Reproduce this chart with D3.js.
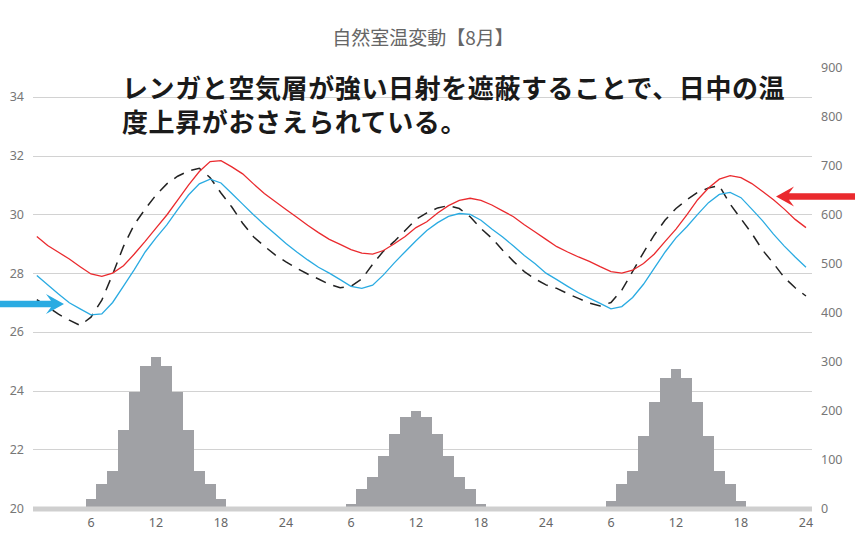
<!DOCTYPE html>
<html>
<head>
<meta charset="utf-8">
<script src="https://cdn.jsdelivr.net/npm/d3@7"></script>
<style>
    body { margin: 0; background: #fff; }
    svg { display: block; }
    .tick text { font-family: "Noto Sans", sans-serif; }
</style>
</head>
<body>
<div id="chart"></div>
<script>
(function () {
    // hours 1..72 (3 days), labels every 6h
    var hours = d3.range(1, 73);
    var hourTicks = [6, 12, 18, 24, 30, 36, 42, 48, 54, 60, 66, 72];
    var leftTicks = [20, 22, 24, 26, 28, 30, 32, 34];
    var rightTicks = [0, 100, 200, 300, 400, 500, 600, 700, 800, 900];

    // solar radiation (right axis)
    var solar = [
        0, 0, 0, 0, 0, 18, 48, 76, 159, 236, 290, 309, 290, 236, 159, 76, 48, 18, 0, 0, 0, 0, 0, 0,
        0, 0, 0, 0, 0, 8, 39, 63, 106, 152, 186, 198, 186, 152, 106, 63, 39, 8, 0, 0, 0, 0, 0, 0,
        0, 0, 0, 0, 0, 14, 48, 76, 146, 216, 265, 284, 265, 216, 146, 76, 48, 14, 0, 0, 0, 0, 0, 0
    ];

    // red line
    var redTemp = [
        29.25, 28.94, 28.71, 28.48, 28.22, 27.97, 27.89, 28.0, 28.25, 28.65, 29.08, 29.53, 29.98, 30.49, 31.0, 31.46, 31.8, 31.83, 31.62, 31.38, 31.04, 30.71, 30.44, 30.17,
        29.9, 29.63, 29.38, 29.15, 28.98, 28.8, 28.68, 28.65, 28.77, 29.0, 29.25, 29.55, 29.75, 30.05, 30.3, 30.48, 30.55, 30.48, 30.32, 30.12, 29.92, 29.65, 29.4, 29.15,
        28.9, 28.72, 28.55, 28.4, 28.22, 28.05, 28.0, 28.1, 28.33, 28.65, 29.08, 29.5, 29.98, 30.5, 30.9, 31.2, 31.32, 31.25, 31.05, 30.78, 30.5, 30.18, 29.83, 29.55
    ];

    // blue line
    var blueTemp = [
        27.92, 27.6, 27.29, 26.99, 26.78, 26.58, 26.61, 27.0, 27.56, 28.12, 28.72, 29.2, 29.64, 30.16, 30.66, 31.04, 31.2, 31.07, 30.71, 30.35, 29.99, 29.65, 29.33, 29.01,
        28.72, 28.45, 28.2, 28.0, 27.78, 27.55, 27.48, 27.59, 27.94, 28.35, 28.73, 29.1, 29.45, 29.72, 29.93, 30.03, 30.0, 29.8, 29.5, 29.23, 28.92, 28.6, 28.32, 28.0,
        27.78, 27.55, 27.33, 27.15, 26.97, 26.78, 26.86, 27.17, 27.62, 28.17, 28.72, 29.2, 29.58, 30.0, 30.4, 30.68, 30.75, 30.57, 30.18, 29.78, 29.33, 28.92, 28.55, 28.2
    ];

    // black dashed line (outdoor)
    var outdoorTemp = [
        27.1, 26.85, 26.6, 26.4, 26.22, 26.5, 27.08, 27.96, 28.91, 29.66, 30.18, 30.66, 31.04, 31.3, 31.48, 31.57, 31.25, 30.73, 30.25, 29.7, 29.24, 28.92, 28.62, 28.38,
        28.16, 27.97, 27.8, 27.62, 27.5, 27.55, 27.8, 28.3, 28.75, 29.08, 29.45, 29.83, 30.05, 30.22, 30.3, 30.2, 29.92, 29.52, 29.19, 28.78, 28.4, 28.05, 27.8, 27.6,
        27.48, 27.3, 27.14, 26.98, 26.88, 27.0, 27.42, 28.06, 28.7, 29.3, 29.81, 30.2, 30.5, 30.75, 30.9, 30.98, 30.35, 29.85, 29.35, 28.78, 28.33, 27.85, 27.5, 27.22
    ];

    var titleText = "自然室温変動【8月】";
    var noteLines = ["レンガと空気層が強い日射を遮蔽することで、日中の温", "度上昇がおさえられている。"];

    var width = 855, height = 541;
    var svg = d3.select("#chart").append("svg").attr("width", width).attr("height", height);

    var x = d3.scaleBand().domain(hours).range([31.4, 811.4]).padding(0);
    var yL = d3.scaleLinear().domain([20, 35]).range([508, 67.6]);
    var yR = d3.scaleLinear().domain([0, 900]).range([508, 67]);

    // grid
    svg.append("g").selectAll("line").data(leftTicks.slice(1)).enter().append("line")
        .attr("x1", 33).attr("x2", 812)
        .attr("y1", d => Math.round(yL(d)) + 0.5).attr("y2", d => Math.round(yL(d)) + 0.5)
        .attr("stroke", "#d2d2d2").attr("stroke-width", 1);

    // bars
    svg.append("g").attr("shape-rendering", "crispEdges")
        .selectAll("rect").data(hours.filter(h => solar[h - 1] > 0)).enter().append("rect")
        .attr("x", h => x(h))
        .attr("width", x.bandwidth())
        .attr("y", h => yR(solar[h - 1]))
        .attr("height", h => yR(0) - yR(solar[h - 1]))
        .attr("fill", "#a0a1a5");

    // base line
    svg.append("line").attr("x1", 33).attr("x2", 812).attr("y1", 509).attr("y2", 509)
        .attr("stroke", "#cfcfcf").attr("stroke-width", 5);

    // left axis
    var gl = svg.append("g").attr("transform", "translate(24,0)")
        .call(d3.axisLeft(yL).tickValues(leftTicks).tickSize(0).tickPadding(0));
    gl.select(".domain").remove();
    gl.selectAll("text").attr("fill", "#777").style("font-size", "12.5px");

    // right axis
    var gr = svg.append("g").attr("transform", "translate(821,0)")
        .call(d3.axisRight(yR).tickValues(rightTicks).tickSize(0).tickPadding(0));
    gr.select(".domain").remove();
    gr.selectAll("text").attr("fill", "#777").style("font-size", "12.5px");

    // bottom axis
    var gb = svg.append("g").attr("transform", "translate(0,518)")
        .call(d3.axisBottom(x).tickValues(hourTicks).tickSize(0).tickPadding(0)
            .tickFormat(h => ((h - 1) % 24) + 1));
    gb.select(".domain").remove();
    gb.selectAll("text").attr("fill", "#666").style("font-size", "12.5px");

    // lines
    function lineFor(arr) {
        return d3.line()
            .x(h => x(h) + x.bandwidth() / 2)
            .y(h => yL(arr[h - 1]))(hours);
    }
    svg.append("path").attr("d", lineFor(outdoorTemp)).attr("fill", "none")
        .attr("stroke", "#222").attr("stroke-width", 1.5).attr("stroke-dasharray", "11,8");
    svg.append("path").attr("d", lineFor(blueTemp)).attr("fill", "none")
        .attr("stroke", "#2aabe2").attr("stroke-width", 1.3);
    svg.append("path").attr("d", lineFor(redTemp)).attr("fill", "none")
        .attr("stroke", "#ea2a2e").attr("stroke-width", 1.3);

    // arrows
    function arrow(tipX, cy, endX, color) {
        var dir = endX > tipX ? 1 : -1;
        var hl = 18, hh = 10, st = 3.2, notch = 5;
        var p = [
            [tipX, cy],
            [tipX + dir * hl, cy - hh],
            [tipX + dir * (hl - notch), cy - st],
            [endX, cy - st],
            [endX, cy + st],
            [tipX + dir * (hl - notch), cy + st],
            [tipX + dir * hl, cy + hh]
        ];
        svg.append("path").attr("d", "M" + p.join("L") + "Z").attr("fill", color);
    }
    arrow(64, 304, -2, "#2aabe2");
    arrow(776, 196.5, 857, "#ea2a2e");

    // title
    svg.append("text").attr("x", 423).attr("y", 45).attr("text-anchor", "middle")
        .attr("fill", "#666").style("font-family", "'Noto Sans CJK JP', sans-serif")
        .style("font-size", "19px").text(titleText);

    // note
    svg.append("g").selectAll("text").data(noteLines).enter().append("text")
        .attr("x", 122).attr("y", (d, i) => 98 + i * 34)
        .attr("fill", "#1a1a1a")
        .style("font-family", "'Noto Sans CJK JP', sans-serif")
        .style("font-weight", "bold").style("font-size", "26px")
        .style("letter-spacing", "0.6px")
        .text(d => d);
})();
</script>
</body>
</html>
